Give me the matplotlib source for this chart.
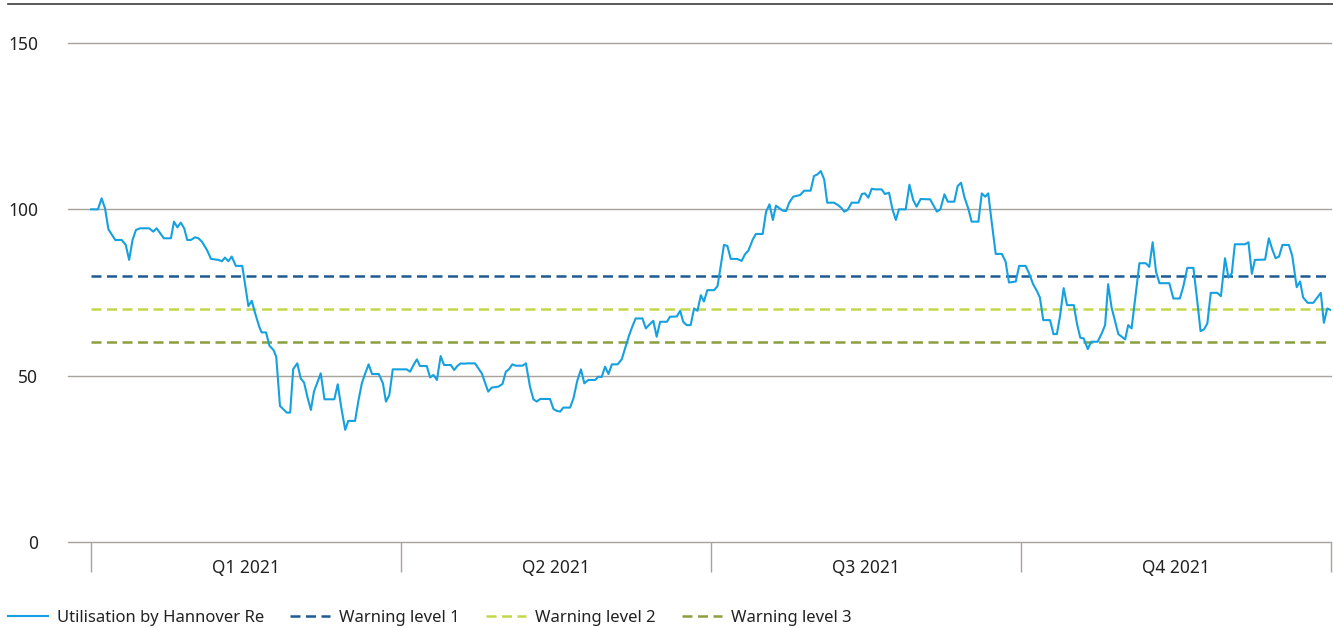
import matplotlib
matplotlib.use("Agg")
import matplotlib.pyplot as plt
from matplotlib.lines import Line2D

plt.rcParams['font.family'] = ['Noto Sans', 'DejaVu Sans']

# day of year (2021) and utilisation in percent
days = [0, 2.0, 3.1, 4.1, 5.1, 7.1, 9.0, 10.2, 11.2, 12.2, 13.2, 14.4, 17.1, 18.3, 19.3,
        21.4, 23.5, 24.4, 25.4, 26.4, 27.4, 28.3, 29.4, 30.6, 31.6, 32.6, 34.1, 35.3,
        37.5, 38.5, 39.4, 40.4, 41.4, 42.6, 44.5, 46.3, 47.3, 48.3, 49.5, 50.2, 51.5,
        52.5, 53.7, 54.5, 55.6, 57.6, 58.6, 59.5, 60.7, 61.7, 62.7, 63.7, 64.7, 65.6,
        67.6, 68.7, 71.6, 72.6, 73.6, 74.8, 75.7, 77.7, 78.7, 79.7, 80.7, 81.7, 82.7,
        84.7, 85.9, 86.8, 87.8, 88.8, 92.9, 93.9, 94.9, 95.9, 96.8, 98.8, 99.8, 100.8,
        101.8, 102.9, 103.9, 105.9, 106.9, 107.8, 108.8, 109.8, 110.8, 113.0, 115.0,
        116.9, 117.9, 119.9, 121.1, 122.1, 123.0, 124.0, 125.0, 127.0, 128.0, 129.2,
        130.2, 131.2, 132.2, 135.1, 136.1, 137.1, 138.1, 139.0, 141.0, 142.0, 143.1,
        144.2, 145.2, 146.4, 148.4, 149.3, 150.3, 151.3, 152.3, 153.3, 155.0, 156.2,
        157.2, 158.4, 159.3, 160.3, 162.3, 163.3, 164.2, 165.5, 166.5, 167.5, 169.5,
        170.4, 172.4, 173.4, 174.3, 175.3, 176.5, 177.5, 178.5, 179.5, 180.4, 181.4,
        183.4, 184.4, 185.4, 186.3, 187.3, 188.3, 190.2, 191.5, 192.5, 193.5, 194.8,
        195.7, 197.7, 198.7, 199.7, 200.7, 201.6, 203.6, 204.6, 205.5, 206.7, 208.7,
        209.9, 211.8, 212.8, 213.8, 214.8, 215.8, 216.7, 218.7, 219.8, 220.8, 221.7,
        222.7, 223.9, 225.9, 226.9, 227.8, 228.8, 229.8, 230.8, 232.7, 233.7, 234.9,
        235.9, 236.9, 237.8, 239.8, 240.9, 242.0, 243.0, 244.2, 247.0, 247.9, 249.0,
        250.0, 251.2, 252.2, 254.1, 255.1, 256.1, 257.1, 258.2, 259.2, 261.2, 262.2,
        263.2, 264.1, 265.1, 266.3, 268.1, 269.2, 270.2, 272.2, 273.2, 275.1, 276.1,
        277.3, 278.4, 279.3, 280.3, 282.3, 283.3, 284.3, 285.2, 286.3, 287.3, 289.3,
        290.2, 291.2, 292.2, 293.4, 294.4, 296.3, 297.5, 298.5, 299.4, 300.4, 302.4,
        304.4, 305.3, 306.3, 307.3, 308.6, 310.5, 311.5, 312.5, 313.5, 314.5, 317.4,
        318.6, 320.5, 321.5, 322.7, 324.5, 325.6, 326.6, 327.6, 328.6, 329.6, 331.5,
        332.6, 333.8, 334.8, 335.8, 336.7, 339.7, 340.7, 341.7, 342.6, 345.6, 346.7,
        347.7, 348.7, 349.7, 350.7, 352.6, 353.6, 354.9, 355.9, 356.8, 358.1, 359.8,
        362.0, 362.9, 363.9, 365]
utilisation = [100, 100, 103.3, 100.3, 94, 90.8, 90.8, 89.3, 84.8, 90.8, 93.8, 94.3, 94.3, 93.3, 94.3,
               91.3, 91.3, 96.3, 94.6, 96, 94.3, 90.8, 90.8, 91.6, 91.3, 90.3, 87.8, 85.1,
               84.8, 84.4, 85.5, 84.4, 85.8, 83, 83, 70.9, 72.5, 68.7, 64.7, 63, 63,
               59, 57.7, 55.7, 40.9, 38.9, 38.9, 52, 53.7, 49.2, 47.9, 43.5, 39.7, 45.2,
               50.7, 42.9, 42.9, 47.4, 40.7, 33.7, 36.4, 36.4, 42.5, 47.7, 50.7, 53.4, 50.5,
               50.5, 47.7, 42.2, 44.2, 51.9, 51.9, 51.2, 53.2, 54.9, 52.9, 52.9, 49.5, 50.2,
               48.7, 55.9, 53.2, 53.2, 51.7, 52.9, 53.7, 53.6, 53.7, 53.7, 50.7,
               45.2, 46.4, 46.7, 47.5, 51.2, 51.9, 53.4, 53, 53, 53.7, 46.7,
               42.9, 42.2, 43, 43, 40, 39.4, 39.2, 40.4, 40.4, 43.2, 48.4,
               51.9, 47.7, 48.7, 48.7, 49.7, 49.6, 52.7, 50.5, 53.4, 53.4, 54.9,
               58.2, 62.2, 64.7, 67.2, 67.2, 64.2, 65.2, 66.5, 61.7, 66.2, 66.2,
               67.7, 67.8, 69.5, 66.2, 65.2, 65.2, 70.2, 69.5, 74.2, 72.3, 75.7,
               75.7, 76.9, 83.3, 89.3, 89, 85.1, 85.1, 84.5, 86.5, 87.6, 91,
               92.6, 92.6, 99.3, 101.5, 96.8, 101.1, 99.6, 99.5, 102, 103.8, 104.3,
               105.6, 105.6, 110, 110.5, 111.5, 109, 102, 102, 101.3, 100.5, 99.3,
               99.8, 102, 102, 104.6, 104.8, 103.5, 106.2, 106, 106, 104.6, 105,
               100, 96.8, 100, 100, 107.4, 102.8, 100.8, 103.1, 103, 101.3, 99.3,
               100, 104.5, 102.3, 102.3, 107, 108, 103.6, 100.3, 96.3, 96.3, 104.8,
               103.8, 104.8, 96.3, 86.6, 86.6, 84.3, 78, 78.3, 83, 83, 80.8,
               77.5, 75.5, 73.5, 66.7, 66.7, 62.5, 62.5, 67.7, 76.3, 71.2, 71.2,
               65.7, 61.4, 61.2, 58, 60.2, 60.2, 62.7, 65.2, 77.5, 70.5, 62.5,
               60.9, 65.2, 64.2, 72.7, 83.8, 83.8, 82.7, 90.1, 81.2, 77.8, 77.8,
               73.2, 73.2, 76.7, 82.4, 82.4, 72.7, 63.4, 63.9, 65.7, 74.9, 74.9,
               73.9, 85.3, 79.5, 80.8, 89.5, 89.5, 90.1, 80.6, 84.8, 84.9, 91.3,
               88, 85.3, 85.8, 89.3, 89.3, 86, 76.6, 78.3, 73.5, 71.9, 71.9,
               74.9, 65.9, 70.2, 69.7]

warning_levels = [80, 70, 60]
warning_names = ['Warning level 1', 'Warning level 2', 'Warning level 3']
warning_colors = ['#1d5b94', '#c4d64a', '#8a9f3e']

quarter_edges = [0, 91.25, 182.5, 273.75, 365]
quarter_labels = ['Q1 2021', 'Q2 2021', 'Q3 2021', 'Q4 2021']
y_ticks = [0, 50, 100, 150]

grid_col = '#a8a39b'
text_col = '#222222'

fig = plt.figure(figsize=(13.33, 6.28), dpi=100)
ax = fig.add_axes([68 / 1333, 86 / 628, 1263 / 1333, 499 / 628])

for y in y_ticks[1:]:
    ax.axhline(y, color=grid_col, lw=1.0, clip_on=False, zorder=1)

handles = []
for lvl, name, col in zip(warning_levels, warning_names, warning_colors):
    h, = ax.plot([quarter_edges[0], quarter_edges[-1]], [lvl, lvl], color=col, lw=1.8,
                 dashes=(4.0, 2.2), label=name, zorder=2)
    handles.append(h)

util_line, = ax.plot(days, utilisation, color='#15a0e0', lw=1.5,
                     label='Utilisation by Hannover Re', zorder=3)

ax.set_xlim(-6.8, 365)
ax.set_ylim(0, 150)

for s in ['top', 'right', 'left']:
    ax.spines[s].set_visible(False)
ax.spines['bottom'].set_color(grid_col)
ax.spines['bottom'].set_linewidth(1.0)

ax.set_yticks(y_ticks)
ax.set_yticklabels([str(v) for v in y_ticks])
ax.tick_params(axis='y', length=0, pad=21.6, labelsize=12.5, labelcolor=text_col)

# quarter separators as long major ticks, labels on minor ticks in between
ax.set_xticks(quarter_edges)
ax.set_xticklabels([''] * len(quarter_edges))
ax.tick_params(axis='x', which='major', length=21.6, width=1.0, color=grid_col)
mids = [(a + b) / 2 for a, b in zip(quarter_edges[:-1], quarter_edges[1:])]
ax.set_xticks(mids, minor=True)
ax.set_xticklabels(quarter_labels, minor=True)
ax.tick_params(axis='x', which='minor', length=0, pad=12, labelsize=12.5, labelcolor=text_col)
for t in ax.xaxis.get_major_ticks():
    t.tick1line.set_clip_on(False)

# thin rule across the top of the figure
fig.add_artist(Line2D([8 / 1333, 1], [624.5 / 628, 624.5 / 628], color='#3c3c3c', lw=1.2))

leg = fig.legend([util_line] + handles,
                 ['Utilisation by Hannover Re'] + warning_names,
                 loc='center left', bbox_to_anchor=(3 / 1333, 10 / 628), ncol=4, frameon=False,
                 fontsize=12, handlelength=2.4, handletextpad=0.55, columnspacing=1.55,
                 borderaxespad=0, borderpad=0.3)
for t in leg.get_texts():
    t.set_color(text_col)

fig.savefig('out.png', dpi=100)
